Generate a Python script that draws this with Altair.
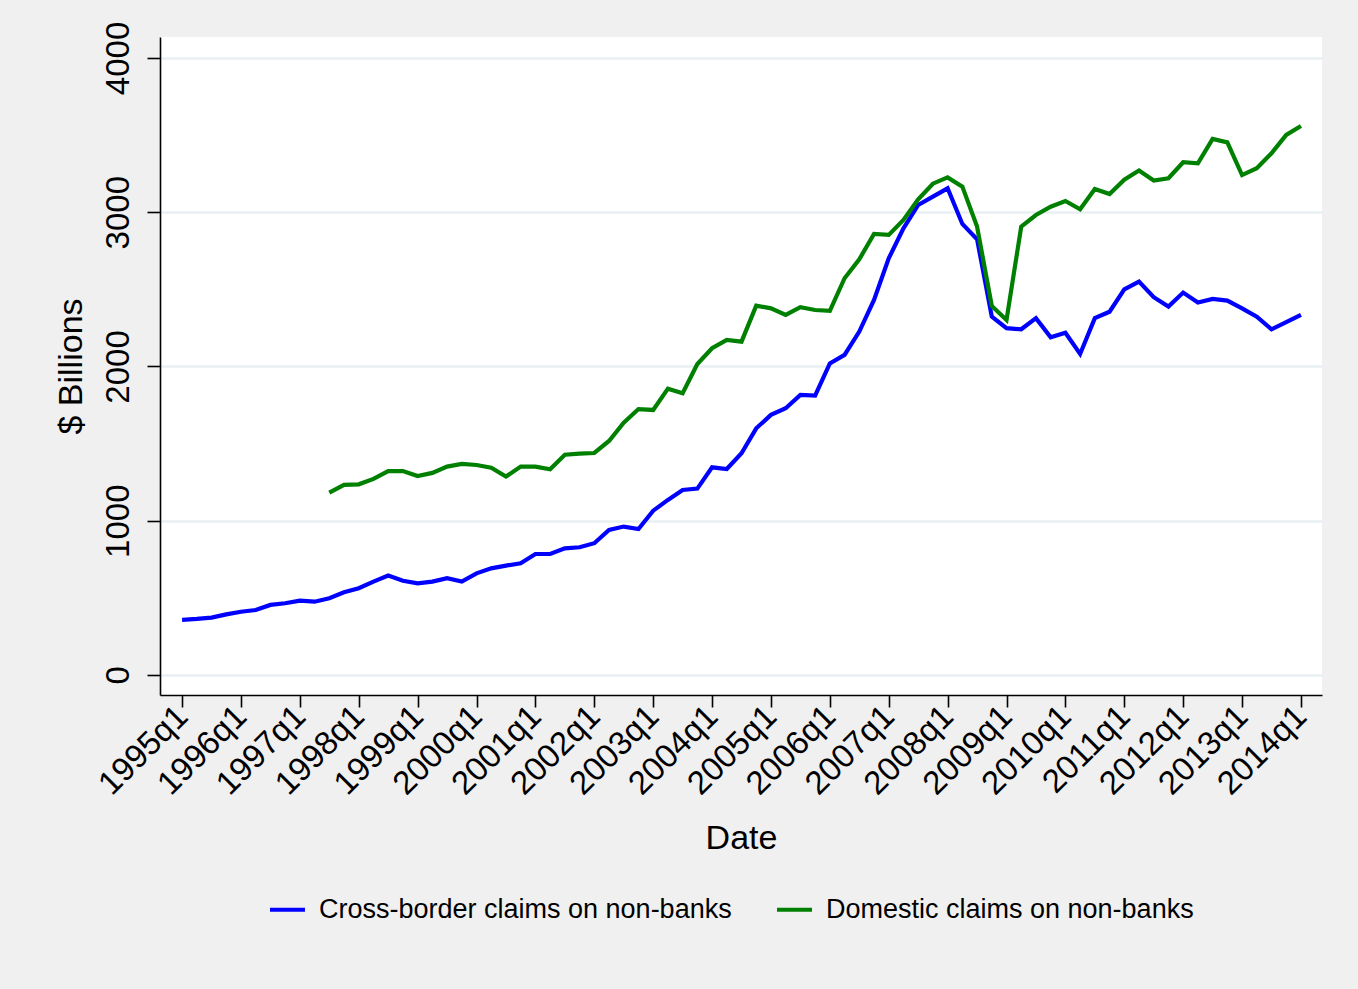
import altair as alt
import pandas as pd

# ---- data ----
quarters = [f"{y}q{q}" for y in range(1995, 2015) for q in range(1, 5)][:77]

cross_border = [357, 363, 372, 393, 410, 421, 454, 465, 482, 475,
                497, 536, 562, 605, 644, 611, 594, 605, 627, 605,
                659, 691, 709, 724, 784, 784, 821, 828, 854, 940,
                962, 946, 1065, 1135, 1199, 1208, 1346, 1335, 1437, 1599,
                1686, 1729, 1815, 1811, 2020, 2075, 2226, 2431, 2701, 2896,
                3047, 3101, 3155, 2924, 2825, 2323, 2248, 2241, 2313, 2189,
                2219, 2081, 2313, 2355, 2500, 2550, 2449, 2388, 2479, 2414,
                2438, 2427, 2377, 2323, 2241, 2287, 2334]

domestic_start = "1997q3"
domestic = [1182, 1232, 1236, 1271, 1322, 1322, 1290, 1310, 1351, 1368,
            1361, 1344, 1286, 1351, 1351, 1333, 1428, 1435, 1439, 1517,
            1636, 1724, 1718, 1856, 1826, 2016, 2118, 2172, 2161, 2394,
            2377, 2334, 2384, 2366, 2360, 2572, 2695, 2859, 2853, 2950,
            3084, 3185, 3226, 3166, 2907, 2392, 2301, 2907, 2982, 3036,
            3073, 3019, 3151, 3118, 3211, 3270, 3205, 3220, 3324, 3317,
            3475, 3453, 3241, 3285, 3382, 3501, 3559]

series_names = ["Cross-border claims on non-banks", "Domestic claims on non-banks"]
series_colors = ["#0000ff", "#008000"]

tick_labels = [f"{y}q1" for y in range(1995, 2015)]
y_ticks = [0, 1000, 2000, 3000, 4000]

rows = []
for i, v in enumerate(cross_border):
    rows.append({"t": i, "quarter": quarters[i], "value": v, "series": series_names[0]})
d0 = quarters.index(domestic_start)
for j, v in enumerate(domestic):
    rows.append({"t": d0 + j, "quarter": quarters[d0 + j], "value": v, "series": series_names[1]})
df = pd.DataFrame(rows)

label_expr = "[" + ",".join(f"'{s}'" for s in tick_labels) + "][round(datum.value/4)]"
tick_values = [quarters.index(s) for s in tick_labels]

FONT = "Liberation Sans"

chart = alt.Chart(df).mark_line(strokeWidth=4.2).encode(
    x=alt.X("t:Q",
            scale=alt.Scale(domain=[-1.5, 77.43], nice=False, zero=False),
            axis=alt.Axis(values=tick_values, labelExpr=label_expr, labelAngle=315,
                          labelAlign="right", labelBaseline="middle", labelPadding=4,
                          tickSize=12, title="Date", titleY=143, titleBaseline="middle",
                          grid=False)),
    y=alt.Y("value:Q",
            scale=alt.Scale(domain=[-130, 4136], nice=False, zero=False),
            axis=alt.Axis(values=y_ticks, format="d", labelAngle=270, labelAlign="center",
                          labelBaseline="bottom", labelPadding=12, tickSize=13,
                          title="$ Billions", titleX=-89, titleY=329,
                          titleBaseline="middle", titleAngle=270,
                          grid=True, gridColor="#e8f0f2", gridWidth=2.6)),
    color=alt.Color("series:N",
                    scale=alt.Scale(domain=series_names, range=series_colors),
                    legend=alt.Legend(title=None, orient="none", legendX=108, legendY=853,
                                      direction="horizontal", symbolType="stroke",
                                      symbolSize=1225, symbolStrokeWidth=4,
                                      labelFontSize=27, labelFont=FONT, labelColor="black",
                                      labelLimit=0,
                                      columnPadding=37, labelOffset=12, padding=0)),
).properties(
    width=1162, height=658,
    autosize=alt.AutoSizeParams(type="none"),
    padding={"left": 160, "top": 37, "right": 36, "bottom": 294},
    background="#f0f0f0",
).configure_view(
    fill="white", strokeWidth=0
).configure_axis(
    domainColor="black", domainWidth=1.6, tickColor="black", tickWidth=1.6,
    labelFont=FONT, labelFontSize=33, labelColor="black",
    titleFont=FONT, titleFontSize=34, titleFontWeight="normal", titleColor="black",
    labelOverlap=False, labelBound=False, labelFlush=False
)

chart.save("out.html", embed_options={"renderer": "svg", "actions": False})
